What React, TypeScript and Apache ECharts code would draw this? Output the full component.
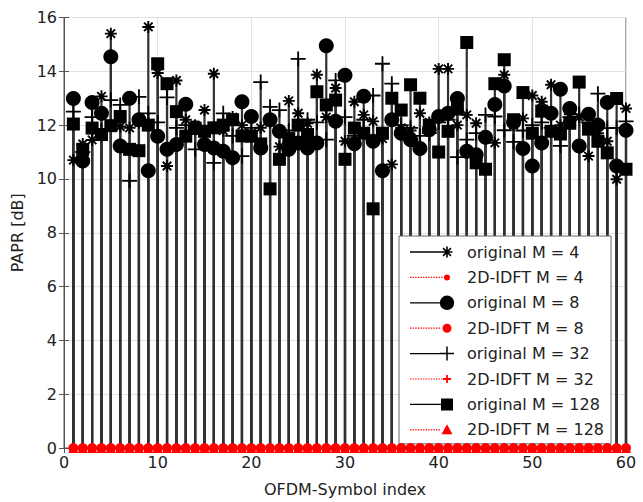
import React, { useEffect, useRef } from "react";
import * as echarts from "echarts";

// OFDM symbol index (x)
const symbolIndex = [
  1, 2, 3, 4, 5, 6, 7, 8, 9, 10, 11, 12, 13, 14, 15, 16, 17, 18, 19, 20,
  21, 22, 23, 24, 25, 26, 27, 28, 29, 30, 31, 32, 33, 34, 35, 36, 37, 38, 39, 40,
  41, 42, 43, 44, 45, 46, 47, 48, 49, 50, 51, 52, 53, 54, 55, 56, 57, 58, 59, 60,
];

// PAPR [dB] of the original signal
const originalM4 = [
  10.7, 11.3, 11.45, 13.07, 15.4, 11.95, 11.9, 12.1, 15.65, 13.94,
  10.48, 13.66, 12.2, 12.0, 12.56, 13.91, 11.8, 12.3, 12.0, 11.7,
  11.9, 12.1, 11.2, 12.9, 12.44, 12.07, 13.87, 12.3, 13.38, 11.4,
  12.87, 12.38, 12.14, 11.5, 10.54, 11.9, 11.8, 12.44, 12.1, 14.09,
  14.09, 12.0, 12.38, 12.07, 11.6, 11.34, 13.87, 12.0, 12.25, 13.1,
  12.87, 13.5, 12.0, 12.4, 12.3, 10.85, 11.7, 11.4, 9.99, 12.62,
];
const originalM8 = [
  12.99, 10.67, 12.84, 12.44, 14.54, 11.22, 13.0, 12.2, 10.3, 11.59,
  11.1, 11.28, 12.78, 11.9, 11.28, 11.15, 11.03, 10.79, 12.87, 12.32,
  11.15, 12.2, 11.77, 11.1, 11.34, 11.15, 11.34, 14.95, 12.14, 13.85,
  11.31, 13.07, 11.4, 10.3, 12.2, 11.7, 11.46, 11.13, 11.83, 12.32,
  12.44, 12.99, 11.03, 10.9, 11.55, 12.77, 13.45, 12.11, 11.13, 10.48,
  11.34, 12.44, 13.33, 12.62, 11.22, 12.4, 12.0, 12.84, 10.48, 11.81,
];
const originalM32 = [
  12.5, 11.0, 12.3, 11.8, 12.93, 12.75, 9.93, 13.05, 12.44, 12.1,
  13.03, 11.9, 12.0, 11.1, 11.7, 10.6, 12.44, 11.6, 10.85, 11.9,
  13.6, 12.68, 12.56, 11.8, 14.46, 12.2, 12.1, 11.46, 13.66, 12.3,
  11.6, 12.2, 13.1, 14.28, 13.54, 12.0, 11.9, 11.6, 11.7, 12.1,
  12.2, 10.81, 11.46, 11.7, 12.38, 12.32, 11.81, 11.38, 11.8, 12.0,
  12.1, 11.9, 11.23, 12.3, 12.4, 12.1, 13.17, 11.89, 11.9, 12.14,
];
const originalM128 = [
  12.04, 11.1, 11.89, 11.65, 11.98, 12.32, 11.1, 11.05, 12.0, 14.28,
  13.54, 12.5, 11.59, 11.89, 11.77, 11.9, 12.0, 12.2, 11.6, 11.59,
  11.3, 9.63, 10.73, 11.5, 12.0, 11.65, 13.24, 12.75, 12.93, 10.73,
  11.89, 11.7, 8.89, 11.7, 13.0, 12.56, 13.5, 13.0, 12.0, 11.0,
  11.77, 12.6, 15.07, 10.6, 10.36, 13.54, 14.43, 12.2, 13.21, 11.7,
  12.52, 11.77, 11.67, 12.07, 13.6, 11.85, 11.4, 10.97, 12.99, 10.36,
];

// PAPR [dB] after 2D-IDFT (all at 0 dB)
const idftM4 = [
  0, 0, 0, 0, 0, 0, 0, 0, 0, 0, 0, 0, 0, 0, 0, 0, 0, 0, 0, 0,
  0, 0, 0, 0, 0, 0, 0, 0, 0, 0, 0, 0, 0, 0, 0, 0, 0, 0, 0, 0,
  0, 0, 0, 0, 0, 0, 0, 0, 0, 0, 0, 0, 0, 0, 0, 0, 0, 0, 0, 0,
];
const idftM8 = [
  0, 0, 0, 0, 0, 0, 0, 0, 0, 0, 0, 0, 0, 0, 0, 0, 0, 0, 0, 0,
  0, 0, 0, 0, 0, 0, 0, 0, 0, 0, 0, 0, 0, 0, 0, 0, 0, 0, 0, 0,
  0, 0, 0, 0, 0, 0, 0, 0, 0, 0, 0, 0, 0, 0, 0, 0, 0, 0, 0, 0,
];
const idftM32 = [
  0, 0, 0, 0, 0, 0, 0, 0, 0, 0, 0, 0, 0, 0, 0, 0, 0, 0, 0, 0,
  0, 0, 0, 0, 0, 0, 0, 0, 0, 0, 0, 0, 0, 0, 0, 0, 0, 0, 0, 0,
  0, 0, 0, 0, 0, 0, 0, 0, 0, 0, 0, 0, 0, 0, 0, 0, 0, 0, 0, 0,
];
const idftM128 = [
  0, 0, 0, 0, 0, 0, 0, 0, 0, 0, 0, 0, 0, 0, 0, 0, 0, 0, 0, 0,
  0, 0, 0, 0, 0, 0, 0, 0, 0, 0, 0, 0, 0, 0, 0, 0, 0, 0, 0, 0,
  0, 0, 0, 0, 0, 0, 0, 0, 0, 0, 0, 0, 0, 0, 0, 0, 0, 0, 0, 0,
];

const seriesNames = [
  "original M = 4",
  "2D-IDFT M = 4",
  "original M = 8",
  "2D-IDFT M = 8",
  "original M = 32",
  "2D-IDFT M = 32",
  "original M = 128",
  "2D-IDFT M = 128",
];

const FONT = "DejaVu Sans";

// ---------- symbol paths ----------
function asteriskAt(cx: number, cy: number, r: number, t: number) {
  const d = r * 0.7071;
  const p = t * 0.7071;
  const f = (n: number) => n.toFixed(3);
  return (
    `M${f(cx - r)},${f(cy - t)}H${f(cx + r)}V${f(cy + t)}H${f(cx - r)}Z ` +
    `M${f(cx - t)},${f(cy - r)}H${f(cx + t)}V${f(cy + r)}H${f(cx - t)}Z ` +
    `M${f(cx - d - p)},${f(cy - d + p)}L${f(cx - d + p)},${f(cy - d - p)}L${f(cx + d + p)},${f(cy + d - p)}L${f(cx + d - p)},${f(cy + d + p)}Z ` +
    `M${f(cx - d + p)},${f(cy + d + p)}L${f(cx - d - p)},${f(cy + d - p)}L${f(cx + d - p)},${f(cy - d - p)}L${f(cx + d + p)},${f(cy - d + p)}Z`
  );
}
function plusAt(cx: number, cy: number, r: number, t: number) {
  return (
    `M${cx - r},${cy - t}H${cx + r}V${cy + t}H${cx - r}Z ` +
    `M${cx - t},${cy - r}H${cx + t}V${cy + r}H${cx - t}Z`
  );
}
function circleAt(cx: number, cy: number, r: number) {
  return `M${cx - r},${cy}A${r},${r} 0 1 1 ${cx + r},${cy}A${r},${r} 0 1 1 ${cx - r},${cy}Z`;
}
function squareAt(cx: number, cy: number, r: number) {
  return `M${cx - r},${cy - r}H${cx + r}V${cy + r}H${cx - r}Z`;
}
function triangleAt(cx: number, cy: number, r: number) {
  return `M${cx},${cy - r}L${cx + r},${cy + r * 0.8}L${cx - r},${cy + r * 0.8}Z`;
}

const ICON_W = 52;
const ICON_H = 16;
const MX = 37;
const MY = 8;
function solidLine(x2: number) {
  return `M0,${MY - 0.65}H${x2}V${MY + 0.65}H0Z `;
}
function dottedLine(x2: number) {
  let s = "";
  for (let x = 0; x + 1.4 <= x2; x += 2.6) {
    s += `M${x.toFixed(2)},${MY - 0.6}H${(x + 1.4).toFixed(2)}V${MY + 0.6}H${x.toFixed(2)}Z `;
  }
  return s;
}
const BBOX = `M0,0L0.05,0L0,0.05Z M${ICON_W},${ICON_H}L${ICON_W - 0.05},${ICON_H}L${ICON_W},${ICON_H - 0.05}Z `;

const legendIcons = [
  "path://" + BBOX + solidLine(MX) + asteriskAt(MX, MY, 5.5, 0.8),
  "path://" + BBOX + dottedLine(MX - 3) + circleAt(MX, MY, 3),
  "path://" + BBOX + solidLine(MX - 7) + circleAt(MX, MY, 7.2),
  "path://" + BBOX + dottedLine(MX - 4.5) + circleAt(MX, MY, 4.5),
  "path://" + BBOX + solidLine(MX) + plusAt(MX, MY, 7, 0.75),
  "path://" + BBOX + dottedLine(MX - 4) + plusAt(MX, MY, 4, 0.9),
  "path://" + BBOX + solidLine(MX - 5.5) + squareAt(MX, MY, 6),
  "path://" + BBOX + dottedLine(MX - 5) + triangleAt(MX, MY, 5.5),
];

const markerAsterisk = "path://" + asteriskAt(0, 0, 5, 0.8);
const markerPlus = "path://" + plusAt(0, 0, 7, 0.85);

function pairs(values: number[]) {
  return symbolIndex.map((x, i) => [x, values[i]]);
}

function stemSeries(values: number[]) {
  return {
    type: "custom",
    silent: true,
    z: 1,
    data: pairs(values),
    renderItem: (_params: any, api: any) => {
      const x = api.value(0);
      const v = api.value(1);
      const p0 = api.coord([x, 0]);
      const p1 = api.coord([x, v]);
      return {
        type: "line",
        shape: { x1: p0[0], y1: p0[1], x2: p1[0], y2: p1[1] },
        style: { stroke: "#303030", lineWidth: 2.2 },
      };
    },
  };
}

function markerSeries(name: string, values: number[], symbol: string, size: number, color: string, z: number) {
  return {
    name,
    type: "scatter",
    silent: true,
    z,
    symbol,
    symbolSize: size,
    itemStyle: { color, opacity: 1 },
    data: pairs(values),
  };
}

export default function App() {
  const ref = useRef<HTMLDivElement>(null);
  useEffect(() => {
    if (!ref.current) return;
    const chart = echarts.init(ref.current, undefined, { renderer: "svg" });
    const axisColor = "#555";
    const gridColor = "#e2e2e2";
    chart.setOption({
      animation: false,
      backgroundColor: "#fff",
      grid: {
        left: 64,
        right: 17,
        top: 17.5,
        bottom: 48,
        show: true,
        borderColor: axisColor,
        borderWidth: 1,
      },
      legend: {
        orient: "vertical",
        left: 399,
        top: 236,
        padding: [8, 7, 6, 11],
        itemGap: 9.4,
        itemWidth: ICON_W,
        itemHeight: ICON_H,
        backgroundColor: "#fff",
        borderColor: "#666",
        borderWidth: 1,
        selectedMode: false,
        textStyle: { fontFamily: FONT, fontSize: 16, color: "#222" },
        data: seriesNames.map((n, i) => ({ name: n, icon: legendIcons[i] })),
      },
      xAxis: [
        {
          type: "value",
          min: 0,
          max: 60,
          interval: 10,
          name: "OFDM-Symbol index",
          nameLocation: "middle",
          nameGap: 33,
          nameTextStyle: { fontFamily: FONT, fontSize: 16, color: "#222" },
          axisLine: { show: true, onZero: false, lineStyle: { color: axisColor } },
          axisTick: { show: true, inside: true, length: 5, lineStyle: { color: axisColor } },
          axisLabel: { fontFamily: FONT, fontSize: 16, color: "#222", margin: 6 },
          splitLine: { show: true, lineStyle: { color: gridColor, width: 1 } },
        },
        {
          type: "value",
          position: "top",
          min: 0,
          max: 60,
          interval: 10,
          axisLine: { show: true, lineStyle: { color: axisColor } },
          axisTick: { show: true, inside: true, length: 5, lineStyle: { color: axisColor } },
          axisLabel: { show: false },
          splitLine: { show: false },
        },
      ],
      yAxis: [
        {
          type: "value",
          min: 0,
          max: 16,
          interval: 2,
          name: "PAPR [dB]",
          nameLocation: "middle",
          nameGap: 31,
          nameTextStyle: { fontFamily: FONT, fontSize: 16, color: "#222" },
          axisLine: { show: true, lineStyle: { color: axisColor } },
          axisTick: { show: true, inside: true, length: 5, lineStyle: { color: axisColor } },
          axisLabel: { fontFamily: FONT, fontSize: 16, color: "#222", margin: 7 },
          splitLine: { show: true, lineStyle: { color: gridColor, width: 1 } },
        },
        {
          type: "value",
          position: "right",
          min: 0,
          max: 16,
          interval: 2,
          axisLine: { show: true, lineStyle: { color: axisColor } },
          axisTick: { show: true, inside: true, length: 5, lineStyle: { color: axisColor } },
          axisLabel: { show: false },
          splitLine: { show: false },
        },
      ],
      series: [
        stemSeries(originalM4),
        stemSeries(originalM8),
        stemSeries(originalM32),
        stemSeries(originalM128),
        markerSeries(seriesNames[0], originalM4, markerAsterisk, 12, "#000", 3),
        markerSeries(seriesNames[1], idftM4, "circle", 6, "#ff0000", 4),
        markerSeries(seriesNames[2], originalM8, "circle", 15, "#000", 5),
        markerSeries(seriesNames[3], idftM8, "circle", 10, "#ff0000", 6),
        markerSeries(seriesNames[4], originalM32, markerPlus, 15, "#000", 7),
        markerSeries(seriesNames[5], idftM32, markerPlus, 8, "#ff0000", 8),
        markerSeries(seriesNames[6], originalM128, "rect", 13, "#000", 9),
        markerSeries(seriesNames[7], idftM128, "triangle", 10, "#ff0000", 10),
      ],
    });
    return () => chart.dispose();
  }, []);
  return (
    <div
      ref={ref}
      style={{ position: "fixed", left: 0, top: 0, width: 643, height: 502 }}
    />
  );
}
